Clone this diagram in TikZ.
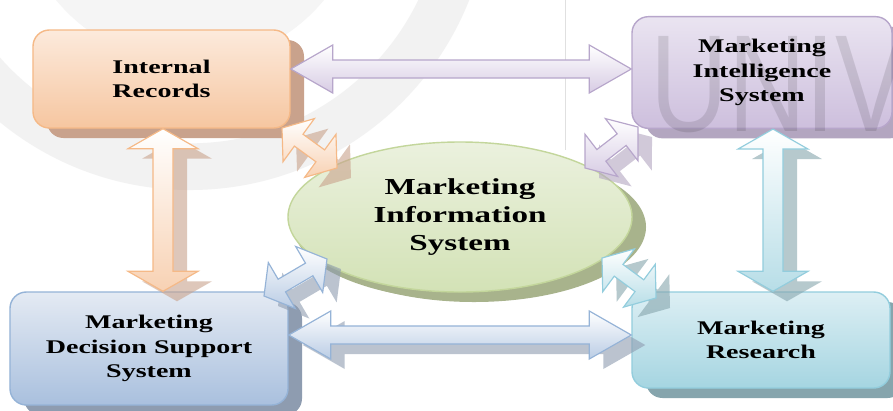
\documentclass[tikz,border=0pt]{standalone}
\usepackage{fontspec}
\setmainfont{Liberation Serif}[FakeStretch=1.45]
\newfontfamily\markfont{Liberation Sans}[FakeStretch=0.78]
\usetikzlibrary{calc, shapes.geometric, shadows}

\definecolor{irline}{HTML}{F5B987}
\definecolor{irlight}{HTML}{FCEADC}
\definecolor{irdark}{HTML}{F6C6A0}
\definecolor{irshade}{HTML}{C9A28C}
\definecolor{misline}{HTML}{B7A6CB}
\definecolor{mislight}{HTML}{EAE4F1}
\definecolor{misdark}{HTML}{CDBFDD}
\definecolor{misshade}{HTML}{B3A6C0}
\definecolor{dssline}{HTML}{95B3D7}
\definecolor{dsslight}{HTML}{E4EAF3}
\definecolor{dssdark}{HTML}{A9C0DE}
\definecolor{dssshade}{HTML}{8E9CB0}
\definecolor{mrline}{HTML}{93CDDD}
\definecolor{mrlight}{HTML}{DDEFF4}
\definecolor{mrdark}{HTML}{A5D5E1}
\definecolor{mrshade}{HTML}{86A5AD}
\definecolor{mkline}{HTML}{C3D69B}
\definecolor{mklight}{HTML}{EBF1DE}
\definecolor{mkdark}{HTML}{D3E2B6}
\definecolor{mkshade}{HTML}{A8B38C}

% #1 style, #2 and #3 end points, #4 head length, #5 head half width, #6 shaft half width
\newcommand\dblarrow[6]{%
  \path[#1] (#2) -- ($(#2)!#4!(#3)!#5!90:(#3)$) -- ($(#2)!#4!(#3)!#6!90:(#3)$)
    -- ($(#3)!#4!(#2)!#6!-90:(#2)$) -- ($(#3)!#4!(#2)!#5!-90:(#2)$) -- (#3)
    -- ($(#3)!#4!(#2)!#5!90:(#2)$) -- ($(#3)!#4!(#2)!#6!90:(#2)$)
    -- ($(#2)!#4!(#3)!#6!-90:(#3)$) -- ($(#2)!#4!(#3)!#5!-90:(#3)$) -- cycle;}

\tikzset{
  sysbox/.style={draw=#1line, line width=1.2pt, rounded corners=14pt,
    top color=#1light, bottom color=#1dark, align=center,
    font=\bfseries\fontsize{16.5}{21}\selectfont,
    drop shadow={shadow xshift=0.42cm, shadow yshift=-0.3cm, fill=#1shade, opacity=1}},
  flow/.style={draw=#1line, line width=1pt, line join=miter, top color=white, bottom color=#1dark!80},
  flowshade/.style={drop shadow={shadow xshift=0.42cm, shadow yshift=-0.3cm, fill=#1, opacity=0.6}},
}

\begin{document}
\begin{tikzpicture}[x=0.03cm, y=-0.03cm]
\useasboundingbox (0,0) rectangle (893,410);
\fill[white] (0,0) rectangle (893,410);
\fill[black!5, even odd rule] (190,-110) circle[radius=9cm] (190,-110) circle[radius=7.6cm];
\fill[black!4] (190,-110) circle[radius=5.2cm];
\draw[black!12, line width=0.8pt] (565,0) -- (565,150);

\node (ir) at (161.5,79) [sysbox=ir, minimum width=7.71cm, minimum height=2.94cm] {Internal\\Records};
\node (mis) at (762,72.5) [sysbox=mis, minimum width=7.8cm, minimum height=3.35cm] {Marketing\\Intelligence\\System};
\node (mdss) at (149,348.5) [sysbox=dss, minimum width=8.34cm, minimum height=3.39cm] {Marketing\\Decision Support\\System};
\node (mr) at (761,340) [sysbox=mr, minimum width=7.74cm, minimum height=2.88cm] {Marketing\\Research};
\node (mk) at (460,217) [sysbox=mk, ellipse, inner sep=0pt, minimum width=10.32cm, minimum height=4.5cm,
  font=\bfseries\fontsize{19.5}{24}\selectfont,
  drop shadow={shadow xshift=0.15cm, shadow yshift=-0.24cm, fill=mkshade, opacity=1}] {Marketing\\Information\\System};
\node at (646,131) [anchor=base west, font=\markfont\fontsize{118}{118}\selectfont, text=black, opacity=0.11] {UNIV};

\coordinate (irE) at (ir.east |- 0,69);
\coordinate (misW) at (mis.west |- 0,69);
\coordinate (dssE) at (mdss.east |- 0,335);
\coordinate (mrW) at (mr.west |- 0,335);
\coordinate (irS) at (ir.south -| 163,0);
\coordinate (dssN) at (mdss.north -| 163,0);
\coordinate (misS) at (mis.south -| 773,0);
\coordinate (mrN) at (mr.north -| 773,0);
\coordinate (irD) at (282,128);
\coordinate (mkA) at (337,168);
\coordinate (misD) at (638,127);
\coordinate (mkB) at (585,168);
\coordinate (dssD) at (264,296);
\coordinate (mkC) at (327,259);
\coordinate (mrD) at (656,298);
\coordinate (mkD) at (602,258);

\dblarrow{flow=mis}{irE}{misW}{1.26cm}{0.72cm}{0.27cm}
\dblarrow{flow=dss, flowshade=dssshade}{dssE}{mrW}{1.26cm}{0.72cm}{0.27cm}
\dblarrow{flow=ir, flowshade=irshade}{irS}{dssN}{0.6cm}{1.05cm}{0.3cm}
\dblarrow{flow=mr, flowshade=mrshade}{misS}{mrN}{0.6cm}{1.05cm}{0.3cm}
\dblarrow{flow=ir, flowshade=irshade}{irD}{mkA}{0.62cm}{0.8cm}{0.22cm}
\dblarrow{flow=mis, flowshade=misshade}{misD}{mkB}{0.62cm}{0.8cm}{0.22cm}
\dblarrow{flow=dss, flowshade=dssshade}{dssD}{mkC}{0.62cm}{0.8cm}{0.22cm}
\dblarrow{flow=mr, flowshade=mrshade}{mrD}{mkD}{0.62cm}{0.8cm}{0.22cm}
\end{tikzpicture}
\end{document}
